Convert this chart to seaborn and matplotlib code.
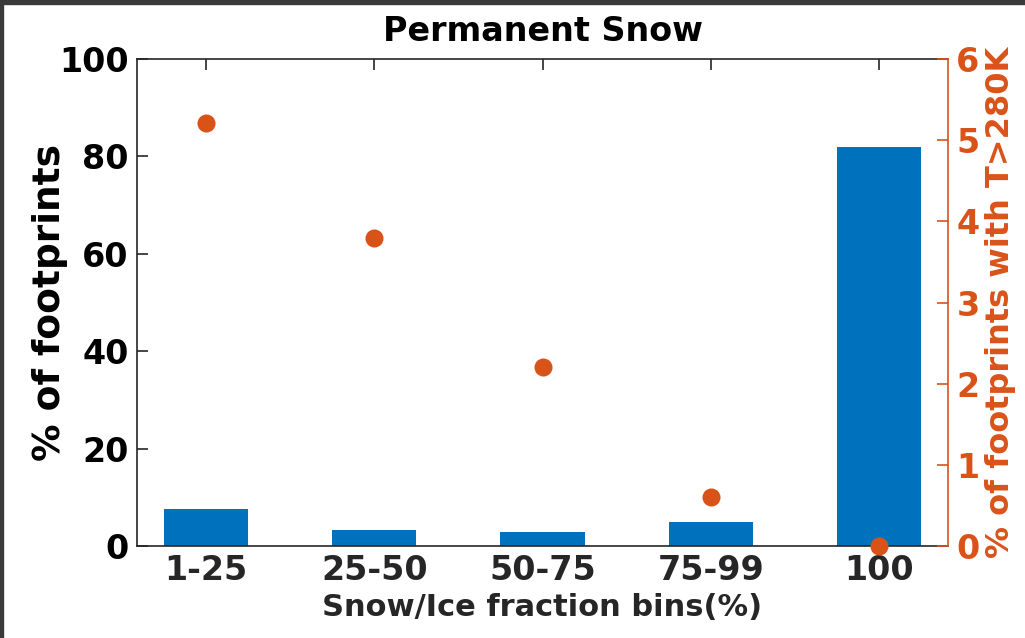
import matplotlib
matplotlib.use("Agg")
import matplotlib.pyplot as plt
import seaborn as sns
import pandas as pd
import numpy as np
from matplotlib.patches import Rectangle

categories = ["1-25", "25-50", "50-75", "75-99", "100"]
pct_footprints = [7.6, 3.3, 2.8, 4.9, 81.9]
pct_warm = [5.21, 3.79, 2.20, 0.60, 0.0]
left_ticks = [0, 20, 40, 60, 80, 100]
right_ticks = [0, 1, 2, 3, 4, 5, 6]

BLUE = "#0072BD"
ORANGE = "#D95319"

sns.set_theme(style="white")
plt.rcParams['font.family'] = ['DejaVu Sans']
plt.rcParams['font.weight'] = 'bold'

fig = plt.figure(figsize=(10.25, 6.38), dpi=100)
ax = fig.add_axes([0.1337, 0.1442, 0.7912, 0.7633])

df = pd.DataFrame({"bin": categories, "pct": pct_footprints, "warm": pct_warm})
sns.barplot(data=df, x="bin", y="pct", color=BLUE, saturation=1, width=0.5, ax=ax)
for p in ax.patches:
    p.set_edgecolor(BLUE)
    p.set_linewidth(0)

ax.set_xlim(-0.41, 4.41)
ax.set_ylim(0, 100)
ax.set_yticks(left_ticks)
ax.set_yticklabels([str(t) for t in left_ticks], fontsize=24, fontweight='bold', color='black')
ax.set_xticks(range(len(categories)))
ax.set_xticklabels(categories, fontsize=24, fontweight='bold', color='#262626')
ax.set_xlabel("Snow/Ice fraction bins(%)", fontsize=22, fontweight='bold', color='#262626', labelpad=4)
ax.set_ylabel("% of footprints", fontsize=27, fontweight='bold', color='black')
ax.yaxis.set_label_coords(-0.085, 0.5)
ax.set_title("Permanent Snow", fontsize=24, fontweight='bold', color='black', pad=13)
ax.tick_params(axis='x', direction='in', length=8, width=1.2, color='#262626', top=True, bottom=True, pad=6)
ax.tick_params(axis='y', direction='in', length=8, width=1.2, color='#262626', left=True, right=False, pad=6)
for s in ['left', 'bottom', 'top']:
    ax.spines[s].set_color('#262626')
    ax.spines[s].set_linewidth(1.2)
ax.spines['right'].set_visible(False)

ax2 = ax.twinx()
sns.stripplot(data=df, x="bin", y="warm", jitter=False, color=ORANGE, size=13,
              linewidth=0, ax=ax2, clip_on=False, zorder=3)
ax2.set_xlim(-0.41, 4.41)
ax2.set_ylim(0, 6)
ax2.set_yticks(right_ticks)
ax2.set_yticklabels([str(t) for t in right_ticks], fontsize=24, fontweight='bold', color=ORANGE)
ax2.set_ylabel("% of footprints with T>280K", fontsize=23, fontweight='bold', color=ORANGE)
ax2.yaxis.set_label_coords(1.045, 0.5)
ax2.set_xlabel("")
ax2.tick_params(axis='y', direction='in', length=8, width=1.2, color=ORANGE, right=True, left=False, pad=6)
ax2.tick_params(axis='x', which='both', top=False, bottom=False, labeltop=False, labelbottom=False)
for s in ['left', 'bottom', 'top']:
    ax2.spines[s].set_visible(False)
ax2.spines['right'].set_color(ORANGE)
ax2.spines['right'].set_linewidth(1.2)
for c in ax2.collections:
    c.set_clip_on(False)

# dark screenshot frame
fig.add_artist(Rectangle((0, 1 - 4/638), 1, 4/638, transform=fig.transFigure, color='#3a3a3a', zorder=10))
fig.add_artist(Rectangle((0, 0), 3/1025, 1, transform=fig.transFigure, color='#3a3a3a', zorder=10))

fig.savefig("out.png", dpi=100)
